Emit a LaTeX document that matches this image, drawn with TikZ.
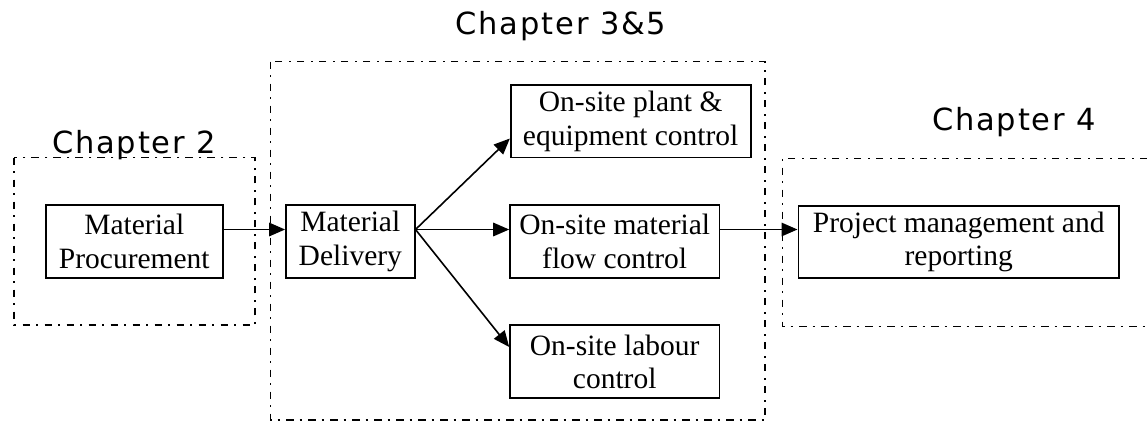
\documentclass[tikz,border=0pt]{standalone}
\usepackage{fontspec}
\setmainfont{Liberation Serif}
\newfontfamily\chapfont[LetterSpace=6]{DejaVu Sans}
\usetikzlibrary{arrows.meta}

\begin{document}
\begin{tikzpicture}[x=1pt,y=-1pt,
  stagebox/.style={draw, line width=1.7pt, align=center, inner sep=0pt,
    font={\fontsize{29.5}{33.5}\selectfont}},
  groupframe/.style={line width=1.5pt, dash pattern=on 7.3pt off 6pt on 2pt off 6.7pt},
  chaplabel/.style={anchor=base, inner sep=0pt, font={\chapfont\fontsize{30.5}{34}\selectfont}},
  flow/.style={line width=1.6pt, -{Triangle[length=16pt,width=13.5pt]}}]
\useasboundingbox (0,0) rectangle (1147,423);

% chapter frames (dash-dot)
\draw[groupframe] (14,157.7) rectangle (255,325);
\draw[groupframe] (270.5,61.7) rectangle (765,420);
\draw[groupframe] (1147,158.3) -- (782.3,158.3) -- (782.3,326.7) -- (1147,326.7);

% chapter titles
\node[chaplabel] (c2)  at (134,153.3) {Chapter 2};
\node[chaplabel] (c35) at (561,34)    {Chapter 3\&5};
\node[chaplabel] (c4)  at (1014,130)  {Chapter 4};

% process stages
\node[stagebox, minimum width=176.7pt, minimum height=72.4pt] (pr) at (134.3,241.5) {Material\\Procurement};
\node[stagebox, minimum width=128.7pt, minimum height=72.7pt] (dv) at (350.3,241.3) {Material\\Delivery};
\node[stagebox, minimum width=240pt,   minimum height=72.3pt] (pl) at (630.7,121.2) {On-site plant \&\\equipment control};
\node[stagebox, minimum width=209.3pt, minimum height=72.7pt] (fl) at (614.7,241.3) {On-site material\\flow control};
\node[stagebox, minimum width=209.3pt, minimum height=73pt]   (lb) at (614.7,361.8) {On-site labour\\control};
\node[stagebox, minimum width=320.7pt, minimum height=72pt]   (pj) at (958.7,241.7) {Project management and\\reporting};

% connector heights
\coordinate (row) at (0,229.5);
\coordinate (uprow) at (0,138.5);
\coordinate (lowrow) at (0,347);

\draw[flow] (pr.east |- row) -- (dv.west |- row);
\draw[flow] (dv.east |- row) -- (pl.west |- uprow);
\draw[flow] (dv.east |- row) -- (fl.west |- row);
\draw[flow] (dv.east |- row) -- (lb.west |- lowrow);
\draw[flow] (fl.east |- row) -- (pj.west |- row);
\end{tikzpicture}
\end{document}
